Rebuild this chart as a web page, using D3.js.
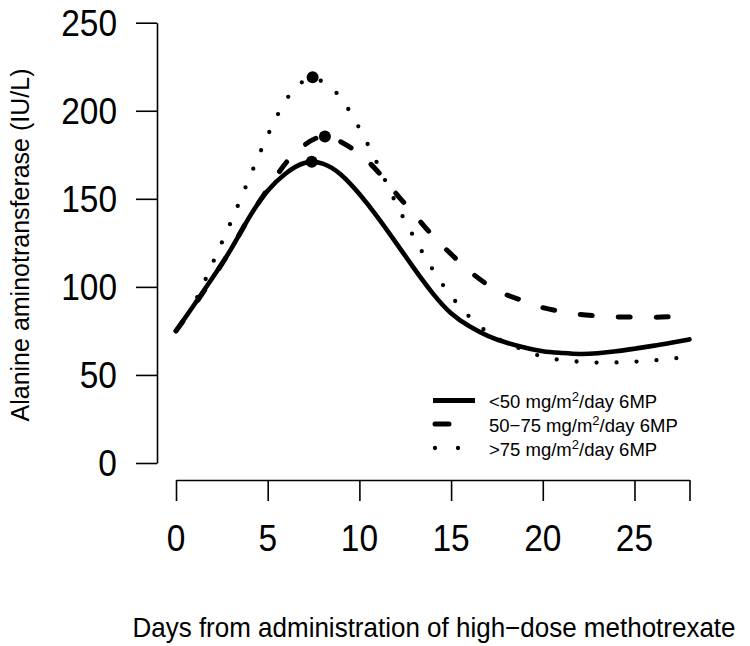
<!DOCTYPE html>
<html><head><meta charset="utf-8">
<script src="https://cdn.jsdelivr.net/npm/d3@7"></script>
<style>
body{margin:0;background:#fff}
svg{display:block}
text{font-family:"Liberation Sans",Arial,sans-serif;fill:#000}
</style>
</head><body><svg id="c" width="750" height="646"></svg>
<script>
// ---- data ----
const days = [0,1,2,3,4,5,6,7,8,9,10,11,12,13,14,15,16,17,18,19,20,21,22,23,24,25,26,27,28];
const lowDose  = [75,90,105.3,121.4,139.6,154.6,164.5,170.3,170,163.7,152.7,139.5,125,110.2,96.3,85,77.6,72.2,68.4,65.6,63.5,62.5,61.9,62.3,63.4,64.9,66.5,68.3,70.2];
const midDose  = [75,89.6,105,121.5,139.6,155.5,170.5,180.5,185.3,182.3,175.5,165.5,153,141,129,118.6,109,101.2,95.6,91.9,88.2,86.1,84.4,83.5,83,82.8,82.7,83.1,83.6];
const highDose = [75,91,113.5,137,161.8,186,206,217,216.5,207,190,169.5,147.4,127.7,109.8,94.9,83,74.2,68.3,64,60.3,58.5,57.5,57,57.1,57.5,58.2,59.2,60.3];
const peakDays   = [7.4, 8.12, 7.45];
const peakValues = [171, 185.4, 219];
const legendPre  = ["<50 mg/m", "50\u221275 mg/m", ">75 mg/m"];
const legendSup  = ["2", "2", "2"];
const legendPost = ["/day 6MP", "/day 6MP", "/day 6MP"];
const xTicks = [0,5,10,15,20,25,28];
const xTickLabels = ["0","5","10","15","20","25",""];
const yTicks = [0,50,100,150,200,250];
const yTickLabels = ["0","50","100","150","200","250"];
const xTitle = "Days from administration of high\u2212dose methotrexate";
const yTitle = "Alanine aminotransferase (IU/L)";

// ---- chart ----
const svg = d3.select("#c");
const x = d3.scaleLinear().domain([0,28]).range([176,689.5]);
const y = d3.scaleLinear().domain([0,250]).range([463,22.7]);
const stretch = 1.12;

const styles = [
  {w:4.6, dash:null, cap:"round", legDash:null, legCap:"butt"},
  {w:5, dash:"12,26", cap:"round", legDash:"14,40", legCap:"round"},
  {w:4.3, dash:"0,20", cap:"round", legDash:"0,23", legCap:"round"}
];
const series = [lowDose, midDose, highDose];

// y axis
const yAx = svg.append("g").attr("transform","translate(157,0)")
  .call(d3.axisLeft(y).tickValues(yTicks).tickSize(21).tickSizeOuter(0).tickFormat(""));
yAx.selectAll("line,path").attr("stroke","#000").attr("stroke-width",1.6);
svg.append("g").selectAll("text").data(yTicks).join("text")
  .attr("transform",d=>`translate(117,${y(d)+13.2}) scale(1,${stretch})`)
  .attr("text-anchor","end").style("font-size","33.5px").text((d,i)=>yTickLabels[i]);

// x axis
const xAx = svg.append("g").attr("transform","translate(0,480)")
  .call(d3.axisBottom(x).tickValues(xTicks).tickSize(21).tickSizeOuter(0).tickFormat(""));
xAx.selectAll("line,path").attr("stroke","#000").attr("stroke-width",1.6);
svg.append("g").selectAll("text").data(xTicks).join("text")
  .attr("transform",d=>`translate(${x(d)},551) scale(1,${stretch})`)
  .attr("text-anchor","middle").style("font-size","33.5px").text((d,i)=>xTickLabels[i]);

// titles
svg.append("text").attr("transform",`translate(434,637) scale(1,1.08)`).attr("text-anchor","middle")
  .style("font-size","26px").text(xTitle);
svg.append("text").attr("transform","translate(29,245) rotate(-90)").attr("text-anchor","middle")
  .style("font-size","25px").text(yTitle);

// curves
const line = d3.line().x((d,i)=>x(days[i])).y(d=>y(d)).curve(d3.curveNatural);
series.forEach((s,i)=>{
  const st = styles[i];
  const p = svg.append("path").attr("d", line(s)).attr("fill","none")
    .attr("stroke","#000").attr("stroke-width",st.w).attr("stroke-linecap",st.cap)
    .attr("stroke-linejoin","round");
  if (st.dash) p.attr("stroke-dasharray", st.dash);
});

// peak markers
svg.selectAll("circle.peak").data(peakDays).join("circle").attr("class","peak")
  .attr("cx",d=>x(d)).attr("cy",(d,i)=>y(peakValues[i])).attr("r",6).attr("fill","#000");

// legend
const legBase = [408, 431.5, 455.5];
legendPre.forEach((t,i)=>{
  const st = styles[i];
  const ly = legBase[i]-7.5;
  const l = svg.append("line").attr("x1", i===0?433:435).attr("x2",475).attr("y1",ly).attr("y2",ly)
    .attr("stroke","#000").attr("stroke-width",i===0?5:st.w).attr("stroke-linecap",st.legCap);
  if (st.legDash) l.attr("stroke-dasharray", st.legDash);
  const tx = svg.append("text").attr("x",489).attr("y",legBase[i]).style("font-size","18.5px");
  tx.append("tspan").text(t);
  tx.append("tspan").attr("dy",-7).style("font-size","13px").text(legendSup[i]);
  tx.append("tspan").attr("dy",7).text(legendPost[i]);
});
</script>
</body></html>
